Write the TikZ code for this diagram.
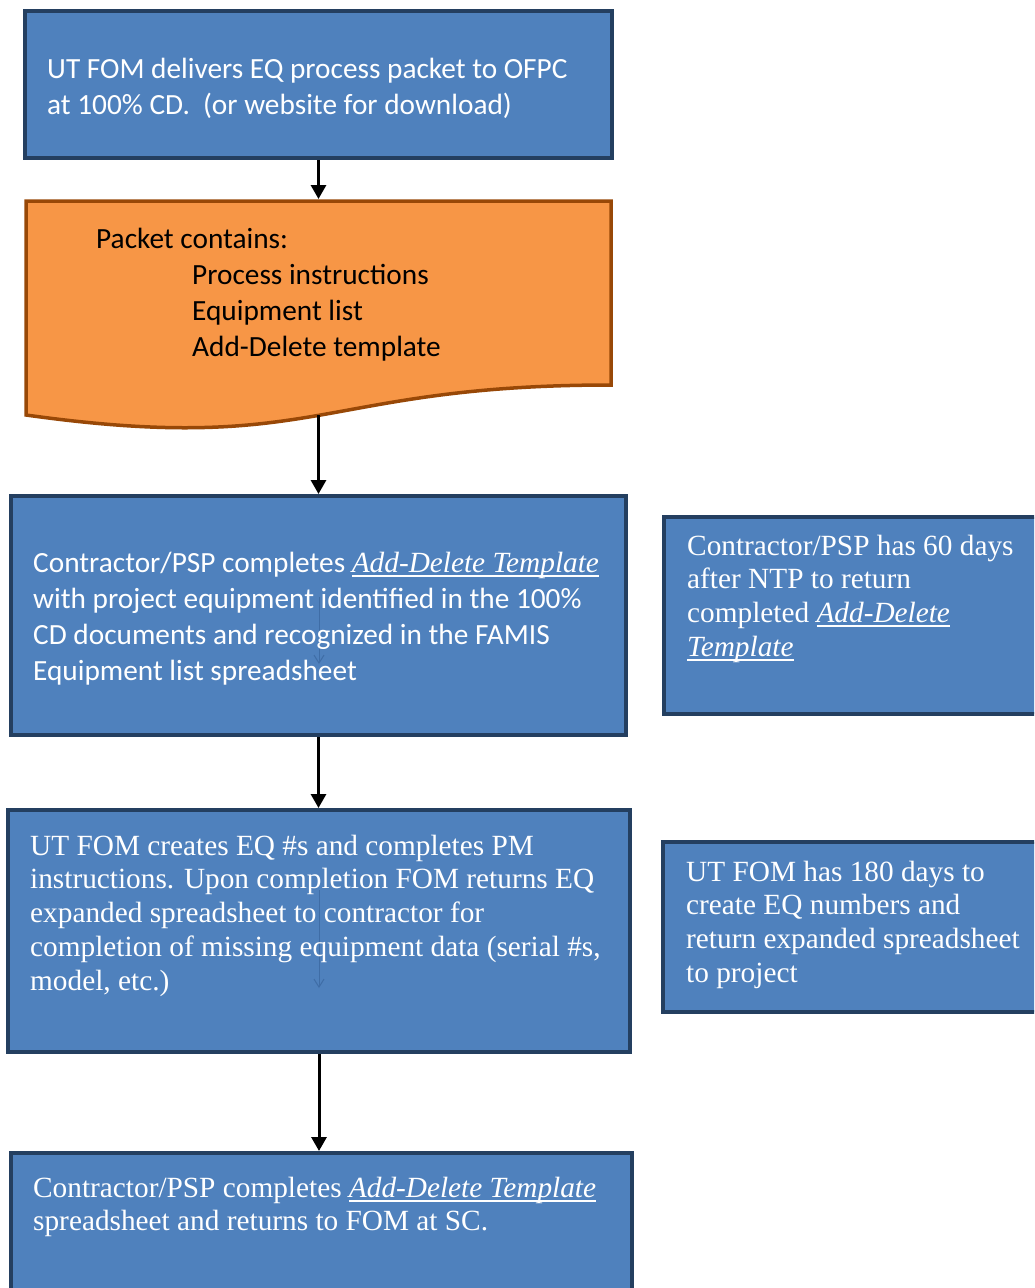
\documentclass[tikz,border=0pt]{standalone}
\usepackage{fontspec}
\setmainfont{Liberation Serif}
\newfontfamily\calfont{Carlito}
\usetikzlibrary{arrows.meta}
\definecolor{boxfill}{HTML}{4F81BD}
\definecolor{boxline}{HTML}{243F60}
\definecolor{docfill}{HTML}{F79646}
\definecolor{docline}{HTML}{984807}
\definecolor{faintline}{HTML}{3F6DA6}
\newcommand\myul[1]{\setbox0\hbox{#1}\rlap{\rule[-4.5pt]{\wd0}{1.8pt}}\box0}
\newcommand\adt[1]{\myul{\textit{#1}}}
\newcommand\lines[1]{\begin{tabular}[t]{@{}l@{}}#1\end{tabular}}
\begin{document}
\begin{tikzpicture}[x=1pt,y=-1pt,
  bluebox/.style={draw=boxline, fill=boxfill, line width=4pt, rectangle, inner sep=0pt},
  arr/.style={line width=3pt, -{Triangle[width=15pt,length=14pt]}},
  faintarr/.style={line width=1pt, draw=faintline, -{Straight Barb[width=10pt,length=8pt]}},
  caltext/.style={anchor=base west, inner sep=0pt, text=white, font=\calfont\fontsize{29.3}{36}\selectfont},
  timestext/.style={anchor=base west, inner sep=0pt, text=white, font=\fontsize{29.3}{33.8}\selectfont}]
\useasboundingbox (0,0) rectangle (1034,1288);
\clip (0,0) rectangle (1034,1288);

% boxes
\node[bluebox, minimum width=587pt, minimum height=147pt] (b1) at (318.5,84.5) {};
\draw[draw=docline, fill=docfill, line width=3.5pt, line join=miter]
  (26,201) -- (611,201) -- (611,385) .. controls (318.5,385) and (318.5,456) .. (26,415) -- cycle;
\coordinate (b2top) at (318.5,199);
\coordinate (b2bot) at (318.5,415);
\node[bluebox, minimum width=615pt, minimum height=239pt] (b3) at (318.5,615.5) {};
\node[bluebox, minimum width=622pt, minimum height=242pt] (b4) at (319,931) {};
\node[bluebox, minimum width=621pt, minimum height=157pt] (b5) at (321.5,1231.5) {};
\node[bluebox, minimum width=386pt, minimum height=197pt] (sa) at (857,615.5) {};
\node[bluebox, minimum width=387pt, minimum height=170pt] (sb) at (856.5,927) {};

% faint hidden arrows
\coordinate (f3a) at (319,597);
\coordinate (f3b) at (319,664);
\coordinate (f4a) at (319,890);
\coordinate (f4b) at (319,988);
\draw[faintarr] (f3a) -- (f3b);
\draw[faintarr] (f4a) -- (f4b);

% connectors
\draw[arr] (b1.south) -- (b1.south |- b2top);
\draw[arr] (b2bot) -- (b2bot |- b3.north);
\draw[arr] (b3.south) -- (b3.south |- b4.north);
\draw[arr] (b4.south) -- (b4.south |- b5.north);

% texts
\node[caltext] (t1) at (47,78) {\lines{UT FOM delivers EQ process packet to OFPC\\at 100\% CD.~~(or website for download)}};
\node[caltext, text=black] (t2) at (96,248) {\lines{Packet contains:\\\hspace*{96pt}Process instructions\\\hspace*{96pt}Equipment list\\\hspace*{96pt}Add-Delete template}};
\node[caltext] (t3) at (33,572) {\lines{Contractor/PSP completes {\rmfamily\adt{Add-Delete Template}}\\with project equipment identified in the 100\%\\CD documents and recognized in the FAMIS\\Equipment list spreadsheet}};
\node[timestext] (t4) at (30,855) {\lines{UT FOM creates EQ \#s and completes PM\\instructions. Upon completion FOM returns EQ\\expanded spreadsheet to contractor for\\completion of missing equipment data (serial \#s,\\model, etc.)}};
\node[timestext] (t5) at (33,1197) {\lines{Contractor/PSP completes \adt{Add-Delete Template}\\spreadsheet and returns to FOM at SC.}};
\node[timestext] (ta) at (687,555) {\lines{Contractor/PSP has 60 days\\after NTP to return\\completed \adt{Add-Delete}\\\adt{Template}}};
\node[timestext] (tb) at (686,881) {\lines{UT FOM has 180 days to\\create EQ numbers and\\return expanded spreadsheet\\to project}};
\end{tikzpicture}
\end{document}
